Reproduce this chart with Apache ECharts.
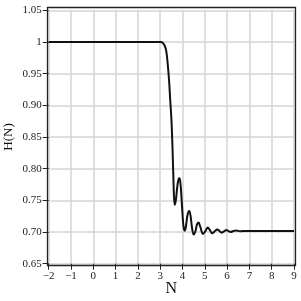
<!DOCTYPE html>
<html><head><meta charset="utf-8">
<script src="https://cdn.jsdelivr.net/npm/echarts@6/dist/echarts.min.js"></script>
<style>html,body{margin:0;padding:0;background:#fff}#c{width:301px;height:301px}</style>
</head><body><div id="c"></div>
<script>
var nValues = [-2, 3.0, 3.1, 3.2, 3.27, 3.33, 3.4, 3.45, 3.5, 3.55, 3.6, 3.645, 3.7, 3.77, 3.83, 3.87, 3.92, 3.98, 4.04, 4.095, 4.15, 4.22, 4.3, 4.36, 4.43, 4.5, 4.57, 4.65, 4.72, 4.8, 4.92, 5.02, 5.13, 5.23, 5.33, 5.44, 5.55, 5.65, 5.75, 5.86, 5.97, 6.06, 6.16, 6.28, 6.4, 6.6, 6.8, 7.0, 9.0];
var hValues = [1, 1, 0.999, 0.994, 0.986, 0.968, 0.938, 0.908, 0.880, 0.835, 0.775, 0.743, 0.750, 0.773, 0.784, 0.785, 0.772, 0.740, 0.710, 0.702, 0.708, 0.726, 0.733, 0.726, 0.706, 0.696, 0.700, 0.712, 0.715, 0.708, 0.697, 0.701, 0.707, 0.703, 0.698, 0.701, 0.704, 0.702, 0.699, 0.701, 0.703, 0.7015, 0.700, 0.7015, 0.7025, 0.7012, 0.7018, 0.7016, 0.7016];
var xTickLabels = ['\u22122', '\u22121', '0', '1', '2', '3', '4', '5', '6', '7', '8', '9'];
var yTickLabels = ['0.65', '0.70', '0.75', '0.80', '0.85', '0.90', '0.95', '1', '1.05'];

var data = nValues.map(function (n, i) { return [n, hValues[i]]; });
var font = '"Liberation Serif", "DejaVu Serif", serif';
var chart = echarts.init(document.getElementById('c'), null, {renderer: 'canvas'});
chart.setOption({
  animation: false,
  backgroundColor: '#fff',
  grid: {left: 48.7, right: 7, top: 10.3, bottom: 37.3, containLabel: false, outerBoundsMode: 'none'},
  graphic: [{
    type: 'rect', z: 100, silent: true,
    shape: {x: 47.5, y: 7.5, width: 248, height: 258},
    style: {fill: 'none', stroke: '#222', lineWidth: 1.3}
  }],
  xAxis: {
    type: 'value', min: -2, max: 9, interval: 1,
    name: 'N', nameLocation: 'middle', nameGap: 17, nameMoveOverlap: false,
    nameTextStyle: {fontFamily: font, fontSize: 16, color: '#111'},
    axisLine: {show: false, onZero: false},
    axisTick: {show: true, inside: false, length: 6, lineStyle: {color: '#222', width: 1}},
    axisLabel: {margin: 7, fontFamily: font, fontSize: 11, color: '#222',
      formatter: function (v, i) { return xTickLabels[Math.round(v) + 2]; }},
    splitLine: {show: true, lineStyle: {color: '#d4d4d4', width: 1.5}}
  },
  yAxis: {
    type: 'value', min: 0.65, max: 1.05, interval: 0.05,
    name: 'H(N)', nameLocation: 'middle', nameGap: 34, nameRotate: 90, nameMoveOverlap: false,
    nameTextStyle: {fontFamily: font, fontSize: 13, color: '#111'},
    axisLine: {show: false, onZero: false},
    axisTick: {show: true, inside: false, length: 6, lineStyle: {color: '#222', width: 1}},
    axisLabel: {margin: 7, fontFamily: font, fontSize: 11, color: '#222',
      formatter: function (v) { return yTickLabels[Math.round((v - 0.65) / 0.05)]; }},
    splitLine: {show: true, lineStyle: {color: '#d4d4d4', width: 1.5}}
  },
  series: [{
    type: 'line', data: data, showSymbol: false, smooth: 0.35,
    lineStyle: {color: '#111', width: 2}, z: 5
  }]
});
</script></body></html>
